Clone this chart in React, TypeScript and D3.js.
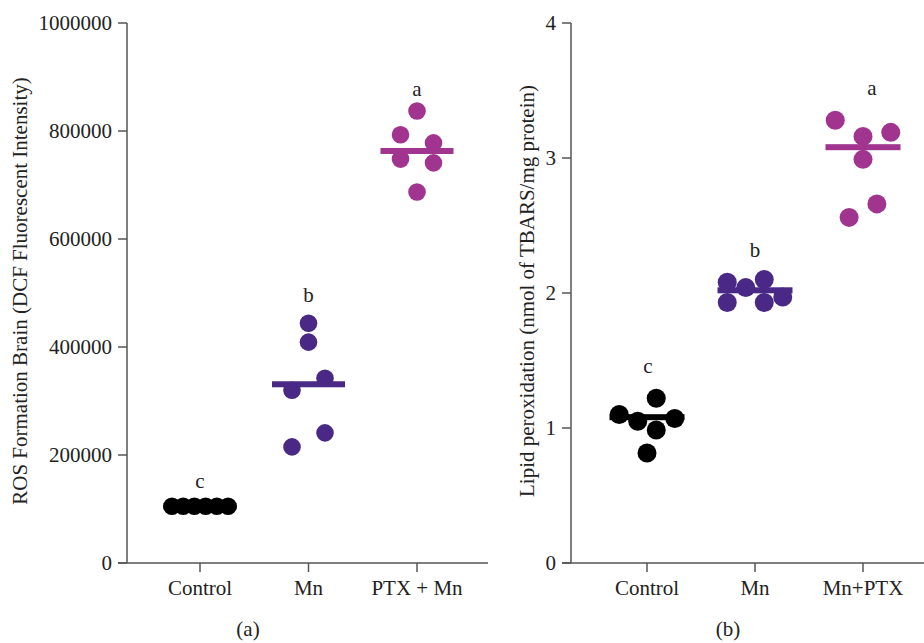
import React from "react";
import * as d3 from "d3";

// ---------- Data ----------
const categoriesA = ["Control", "Mn", "PTX + Mn"];
const valuesA_Control = [105000, 105000, 105000, 105000, 105000, 105000];
const valuesA_Mn = [444000, 409000, 342000, 320000, 241000, 215000];
const valuesA_PTX = [837000, 793000, 778000, 748000, 741000, 687000];
const jitterA_Control = [-1.7, -1.02, -0.34, 0.34, 1.02, 1.7];
const jitterA_Mn = [0, 0, 1, -1, 1, -1];
const jitterA_PTX = [0, -1, 1, -1, 1, 0];
const meansA = [105000, 331000, 763000];
const lettersA = ["c", "b", "a"];
const letterValsA = [139000, 483000, 865000];
const ticksA = [0, 200000, 400000, 600000, 800000, 1000000];

const categoriesB = ["Control", "Mn", "Mn+PTX"];
const valuesB_Control = [1.22, 1.1, 1.05, 1.07, 0.985, 0.815];
const valuesB_Mn = [2.08, 2.04, 2.1, 1.93, 1.93, 1.97];
const valuesB_PTX = [3.28, 3.19, 3.16, 2.99, 2.66, 2.56];
const jitterB_Control = [0.5, -1.5, -0.5, 1.5, 0.5, 0];
const jitterB_Mn = [-1.5, -0.5, 0.5, -1.5, 0.5, 1.5];
const jitterB_PTX = [-1.5, 1.5, 0, 0, 0.75, -0.75];
const meansB = [1.08, 2.02, 3.08];
const lettersB = ["c", "b", "a"];
const letterValsB = [1.407, 2.267, 3.467];
const ticksB = [0, 1, 2, 3, 4];

const colors = ["#000000", "#4a2885", "#a0348f"];

const FONT = "'Liberation Serif', 'DejaVu Serif', serif";
const FS = 21;
const AXIS = "#555555";
const TEXT = "#222222";

type PanelProps = {
  categories: string[];
  values: number[][];
  jitters: number[][];
  means: number[];
  letters: string[];
  letterVals: number[];
  letterDx: number[];
  ticks: number[];
  domainMax: number;
  axisX: number;
  xFirst: number;
  xLast: number;
  xAxisEnd: number;
  jitterUnit: number;
  r: number;
  meanHalf: number;
  title: string;
  titleX: number;
  panelLabel: string;
  panelLabelX: number;
};

const TOP = 23;
const BOTTOM = 563;

function Panel(p: PanelProps) {
  const y = d3.scaleLinear().domain([0, p.domainMax]).range([BOTTOM, TOP]);
  const x = d3.scalePoint<string>().domain(p.categories).range([p.xFirst, p.xLast]);
  return (
    <g>
      {/* y axis */}
      <line x1={p.axisX} x2={p.axisX} y1={TOP} y2={BOTTOM} stroke={AXIS} strokeWidth={1.5} />
      {p.ticks.map((t) => (
        <g key={t}>
          <line x1={p.axisX - 9} x2={p.axisX} y1={y(t)} y2={y(t)} stroke={AXIS} strokeWidth={1.5} />
          <text
            x={p.axisX - 15}
            y={y(t)}
            dy="0.35em"
            textAnchor="end"
            fontFamily={FONT}
            fontSize={FS}
            fill={TEXT}
          >
            {t}
          </text>
        </g>
      ))}
      {/* x axis */}
      <line x1={p.axisX - 9} x2={p.xAxisEnd} y1={BOTTOM} y2={BOTTOM} stroke={AXIS} strokeWidth={1.5} />
      {p.categories.map((c) => (
        <g key={c}>
          <line x1={x(c)} x2={x(c)} y1={BOTTOM} y2={BOTTOM + 9} stroke={AXIS} strokeWidth={1.5} />
          <text x={x(c)} y={595} textAnchor="middle" fontFamily={FONT} fontSize={FS} fill={TEXT}>
            {c}
          </text>
        </g>
      ))}
      {/* dots */}
      {p.categories.map((c, i) => (
        <g key={"d" + c}>
          {p.values[i].map((v, j) => (
            <circle
              key={j}
              cx={(x(c) as number) + p.jitters[i][j] * p.jitterUnit}
              cy={y(v)}
              r={p.r}
              fill={colors[i]}
            />
          ))}
          <rect
            x={(x(c) as number) - p.meanHalf}
            y={y(p.means[i]) - 3}
            width={p.meanHalf * 2}
            height={6}
            fill={colors[i]}
          />
          <text
            x={(x(c) as number) + p.letterDx[i]}
            y={y(p.letterVals[i])}
            textAnchor="middle"
            fontFamily={FONT}
            fontSize={FS}
            fill={TEXT}
          >
            {p.letters[i]}
          </text>
        </g>
      ))}
      {/* y title */}
      <text
        transform={`translate(${p.titleX},${(TOP + BOTTOM) / 2 - 2}) rotate(-90)`}
        textAnchor="middle"
        fontFamily={FONT}
        fontSize={FS}
        fill={TEXT}
      >
        {p.title}
      </text>
      <text
        x={p.panelLabelX}
        y={636}
        textAnchor="middle"
        fontFamily={FONT}
        fontSize={FS}
        fill={TEXT}
      >
        {p.panelLabel}
      </text>
    </g>
  );
}

export default function App() {
  return (
    <svg
      width={924}
      height={643}
      style={{ position: "absolute", left: 0, top: 0, background: "#ffffff" }}
    >
      <rect width={924} height={643} fill="#ffffff" />
      <Panel
        categories={categoriesA}
        values={[valuesA_Control, valuesA_Mn, valuesA_PTX]}
        jitters={[jitterA_Control, jitterA_Mn, jitterA_PTX]}
        means={meansA}
        letters={lettersA}
        letterVals={letterValsA}
        letterDx={[0, 0, 0]}
        ticks={ticksA}
        domainMax={1000000}
        axisX={127}
        xFirst={200}
        xLast={417}
        xAxisEnd={488}
        jitterUnit={16.5}
        r={8.8}
        meanHalf={36.5}
        title="ROS Formation Brain (DCF Fluorescent Intensity)"
        titleX={27}
        panelLabel="(a)"
        panelLabelX={248}
      />
      <Panel
        categories={categoriesB}
        values={[valuesB_Control, valuesB_Mn, valuesB_PTX]}
        jitters={[jitterB_Control, jitterB_Mn, jitterB_PTX]}
        means={meansB}
        letters={lettersB}
        letterVals={letterValsB}
        letterDx={[1, 0, 9]}
        ticks={ticksB}
        domainMax={4}
        axisX={571}
        xFirst={647}
        xLast={863}
        xAxisEnd={924}
        jitterUnit={18.5}
        r={9.5}
        meanHalf={37.5}
        title="Lipid peroxidation (nmol of TBARS/mg protein)"
        titleX={534}
        panelLabel="(b)"
        panelLabelX={728}
      />
    </svg>
  );
}
